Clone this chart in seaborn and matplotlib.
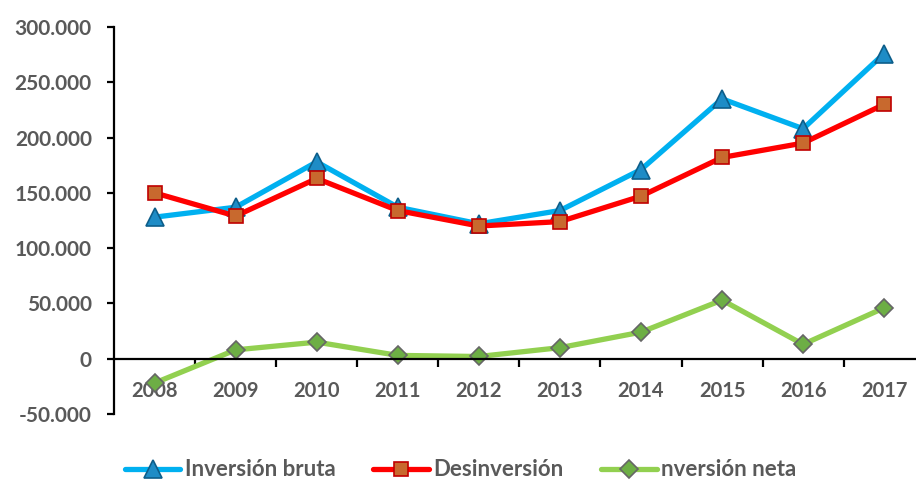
import numpy as np
import pandas as pd
import matplotlib
matplotlib.use('Agg')
import matplotlib.pyplot as plt
from matplotlib.ticker import FuncFormatter
import seaborn as sns

# Chart data
years = ['2008', '2009', '2010', '2011', '2012', '2013', '2014', '2015', '2016', '2017']
inversion_bruta = [128000, 137000, 178000, 137000, 122000, 134000, 171000, 235000, 208000, 276000]
desinversion = [150000, 129000, 163000, 134000, 120000, 124000, 147000, 182000, 195000, 230000]
inversion_neta = [-22000, 8000, 15000, 3000, 2000, 10000, 24000, 53000, 13000, 46000]
series_names = ['Inversión bruta', 'Desinversión', 'nversión neta']

sns.set_style('white')
plt.rcParams['font.family'] = ['Lato', 'DejaVu Sans']

fig = plt.figure(figsize=(9.16, 4.80), dpi=100)
ax = fig.add_axes([0.1245, 0.1375, 0.885, 0.8063])

pos = np.arange(len(years))
styles = [
    dict(color='#00B0F0', marker='^', markersize=13, markerfacecolor='#1E8CC6', markeredgecolor='#0D5E8A'),
    dict(color='#FF0000', marker='s', markersize=9.5, markerfacecolor='#C8692E', markeredgecolor='#C00000'),
    dict(color='#92D050', marker='D', markersize=9, markerfacecolor='#6DAE45', markeredgecolor='#666666'),
]
for name, vals, st in zip(series_names, [inversion_bruta, desinversion, inversion_neta], styles):
    sns.lineplot(x=pos, y=vals, ax=ax, label=name, linewidth=3.8,
                 markeredgewidth=1.2, clip_on=False, **st)

ax.set_xlim(-0.5, 9.5)
ax.set_ylim(-50000, 300000)
ax.set_yticks(np.arange(-50000, 300001, 50000))
ax.yaxis.set_major_formatter(FuncFormatter(lambda v, p: f'{int(v):,}'.replace(',', '.')))

ax.set_xticks(pos)
ax.set_xticklabels(years)
ax.set_xticks(np.arange(0.5, 9.5, 1), minor=True)

for s in ['top', 'right']:
    ax.spines[s].set_visible(False)
ax.spines['bottom'].set_position(('data', 0))
for s in ['left', 'bottom']:
    ax.spines[s].set_color('black')
    ax.spines[s].set_linewidth(1.6)

ax.tick_params(axis='x', which='major', length=0, pad=16, labelsize=14.5, labelcolor='#595959')
ax.tick_params(axis='x', which='minor', length=6, width=1.6, color='black', direction='out')
ax.tick_params(axis='y', length=5, width=1.6, color='black', direction='out', pad=11,
               labelsize=15, labelcolor='#595959')
ax.tick_params(left=True, bottom=True, which='both')
for lab in ax.get_xticklabels() + ax.get_yticklabels():
    lab.set_fontweight('bold')

ax.set_xlabel('')
ax.set_ylabel('')
ax.get_legend().remove()
handles, labels = ax.get_legend_handles_labels()
leg = fig.legend(handles, labels, loc='center', bbox_to_anchor=(0.503, 1 - 470 / 480), ncol=3,
                 frameon=False, handlelength=2.5, handletextpad=0.2, columnspacing=1.7,
                 numpoints=1, prop={'weight': 'bold', 'size': 16})
for t in leg.get_texts():
    t.set_color('#595959')

fig.savefig('out.png', dpi=100)
